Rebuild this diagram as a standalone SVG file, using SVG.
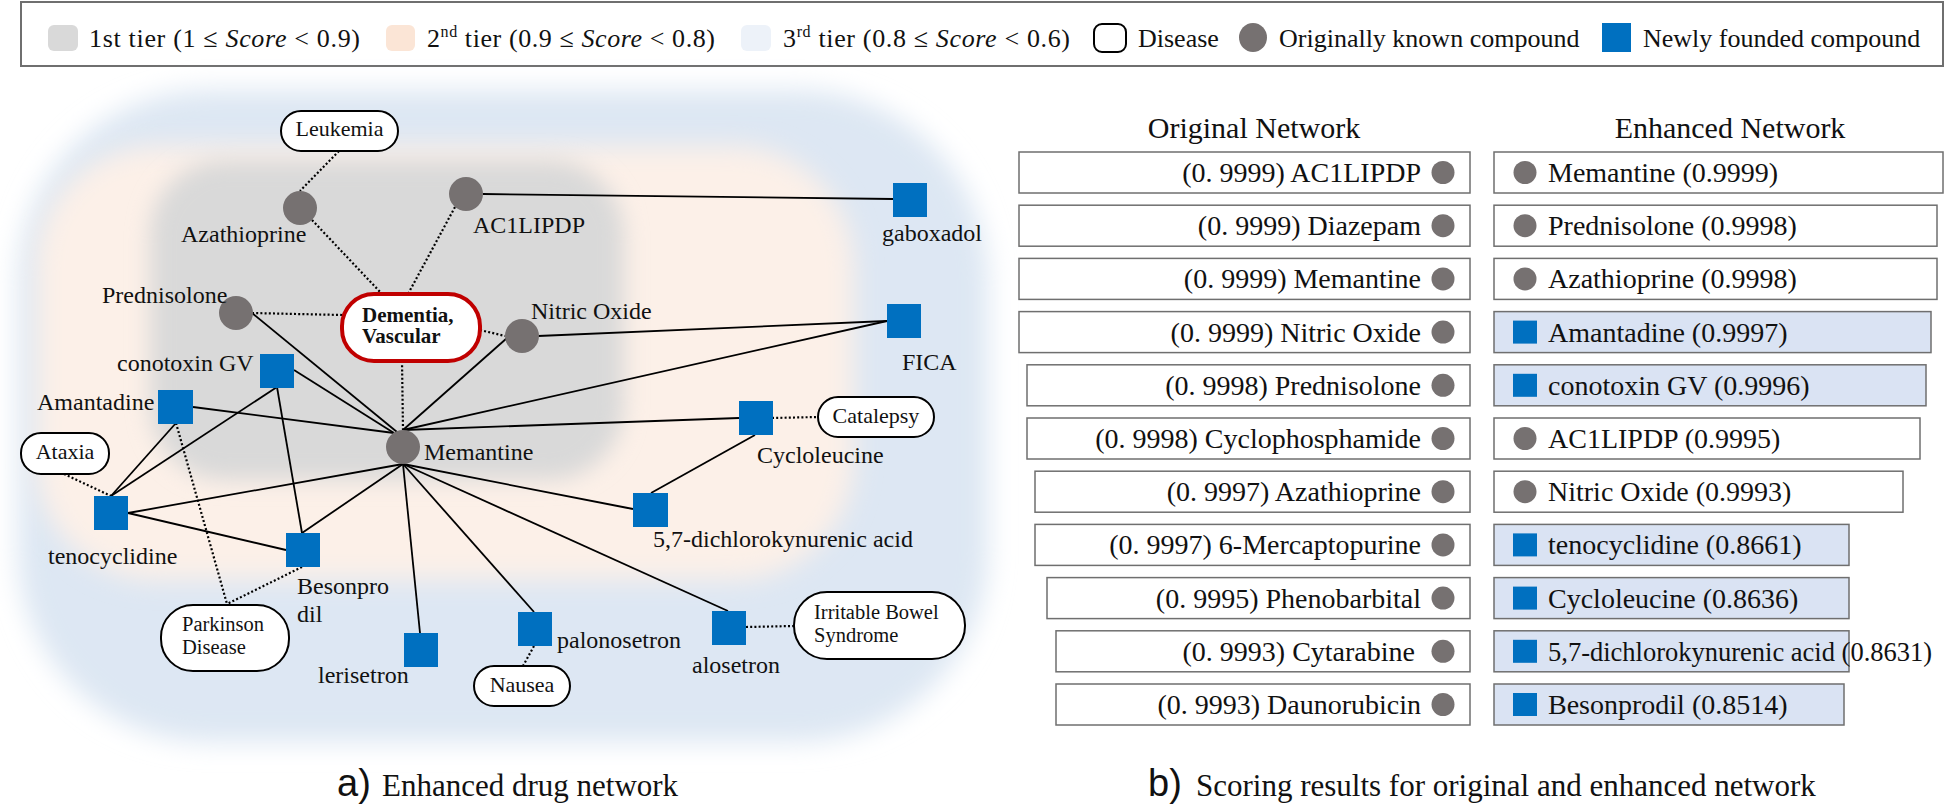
<svg xmlns="http://www.w3.org/2000/svg" width="1946" height="810" viewBox="0 0 1946 810">
<defs>
<style>
text{font-family:"Liberation Serif","Times New Roman",serif;fill:#111}
.lbl{font-size:24px}
.dl{font-size:22px}
.d2{font-size:20.5px}
.dm{font-size:21px;font-weight:bold}
.lg{font-size:26px}
.rp{font-size:28px}
.hd{font-size:30px}
.cap{font-size:31px}
.sans{font-family:"Liberation Sans",Arial,sans-serif;font-size:38px}
.sol{stroke:#000;stroke-width:1.8;fill:none}
.dot{stroke:#000;stroke-width:2.2;stroke-dasharray:2 2.2;fill:none}
.cmp{fill:#767171}
.new{fill:#0070C0}
.dis{fill:#fff;stroke:#000;stroke-width:2}
.bx{fill:#fff;stroke:#6f6f6f;stroke-width:1.5}
.bxb{fill:#dae3f3;stroke:#6f6f6f;stroke-width:1.5}
</style>
<filter id="blur" x="-20%" y="-20%" width="140%" height="140%"><feGaussianBlur stdDeviation="13"/></filter>
<filter id="blur2" x="-20%" y="-20%" width="140%" height="140%"><feGaussianBlur stdDeviation="11"/></filter>
</defs>
<rect width="1946" height="810" fill="#fff"/>

<g id="legend">
<rect x="21" y="2" width="1922" height="64" fill="#fff" stroke="#6f6f6f" stroke-width="2"/>
<rect x="48" y="25" width="30" height="26" rx="6" fill="#d9d9d9"/>
<text class="lg" x="89" y="47" textLength="271" lengthAdjust="spacing">1st tier (1 ≤ <tspan font-style="italic">Score</tspan> &lt; 0.9)</text>
<rect x="386" y="25" width="29" height="26" rx="6" fill="#fbe5d6"/>
<text class="lg" x="427" y="47" textLength="288" lengthAdjust="spacing">2<tspan dy="-10" font-size="16">nd</tspan><tspan dy="10"> tier (0.9 ≤ </tspan><tspan font-style="italic">Score</tspan> &lt; 0.8)</text>
<rect x="741" y="25" width="30" height="26" rx="6" fill="#edf2f9"/>
<text class="lg" x="783" y="47" textLength="287" lengthAdjust="spacing">3<tspan dy="-10" font-size="16">rd</tspan><tspan dy="10"> tier (0.8 ≤ </tspan><tspan font-style="italic">Score</tspan> &lt; 0.6)</text>
<rect x="1094" y="24" width="32" height="28" rx="8" fill="#fff" stroke="#000" stroke-width="2"/>
<text class="lg" x="1138" y="47">Disease</text>
<ellipse cx="1253" cy="37.5" rx="14" ry="14.5" fill="#767171"/>
<text class="lg" x="1279" y="47">Originally known compound</text>
<rect x="1602" y="23" width="29" height="29" fill="#0070C0"/>
<text class="lg" x="1643" y="47">Newly founded compound</text>
</g>

<g id="tiers">
<rect x="18" y="90" width="970" height="652" rx="190" fill="#dde7f3" filter="url(#blur)"/>
<rect x="36" y="146" width="818" height="434" rx="120" fill="#fcf0e8" filter="url(#blur)"/>
<rect x="150" y="160" width="474" height="320" rx="75" fill="#d9d9d9" filter="url(#blur2)"/>
</g>

<g id="connectors">
<line class="sol" x1="483" y1="194" x2="893" y2="199"/>
<line class="sol" x1="252" y1="313" x2="397" y2="432"/>
<line class="sol" x1="538" y1="336" x2="887" y2="321"/>
<line class="sol" x1="403" y1="430" x2="887" y2="321"/>
<line class="sol" x1="507" y1="338" x2="403" y2="430"/>
<line class="sol" x1="403" y1="430" x2="739" y2="418"/>
<line class="sol" x1="193" y1="407" x2="394" y2="433"/>
<line class="sol" x1="294" y1="370" x2="394" y2="433"/>
<line class="sol" x1="403" y1="464" x2="128" y2="513"/>
<line class="sol" x1="403" y1="464" x2="302" y2="533"/>
<line class="sol" x1="403" y1="464" x2="420" y2="633"/>
<line class="sol" x1="403" y1="464" x2="534" y2="612"/>
<line class="sol" x1="403" y1="464" x2="728" y2="611"/>
<line class="sol" x1="403" y1="464" x2="633" y2="509"/>
<line class="sol" x1="755" y1="435" x2="651" y2="493"/>
<line class="sol" x1="111" y1="496" x2="176" y2="423"/>
<line class="sol" x1="111" y1="496" x2="277" y2="387"/>
<line class="sol" x1="128" y1="513" x2="286" y2="550"/>
<line class="sol" x1="277" y1="387" x2="302" y2="533"/>
<line class="dot" x1="339" y1="151" x2="300" y2="191"/>
<line class="dot" x1="312" y1="220" x2="382" y2="294"/>
<line class="dot" x1="455" y1="207" x2="408" y2="294"/>
<line class="dot" x1="252" y1="313" x2="342" y2="315"/>
<line class="dot" x1="480" y1="330" x2="505" y2="336"/>
<line class="dot" x1="402" y1="361" x2="403" y2="430"/>
<line class="dot" x1="64" y1="474" x2="111" y2="496"/>
<line class="dot" x1="176" y1="423" x2="227" y2="604"/>
<line class="dot" x1="302" y1="567" x2="227" y2="604"/>
<line class="dot" x1="534" y1="646" x2="523" y2="666"/>
<line class="dot" x1="746" y1="627" x2="794" y2="626"/>
<line class="dot" x1="772" y1="418" x2="818" y2="417"/>
</g>

<g id="n-leukemia"><rect class="dis" x="281" y="111" width="117" height="40" rx="20"/><text class="dl" x="339.5" y="136" text-anchor="middle">Leukemia</text></g>
<g id="n-dementia"><rect x="342" y="294" width="138" height="67" rx="32" fill="#fff" stroke="#c00000" stroke-width="4"/><text class="dm" x="362" y="322">Dementia,</text><text class="dm" x="362" y="343">Vascular</text></g>
<g id="n-ataxia"><rect class="dis" x="21" y="433" width="88" height="41" rx="20"/><text class="dl" x="65" y="459" text-anchor="middle">Ataxia</text></g>
<g id="n-parkinson"><rect class="dis" x="161" y="605" width="128" height="66" rx="32"/><text class="d2" x="182" y="631">Parkinson</text><text class="d2" x="182" y="654">Disease</text></g>
<g id="n-nausea"><rect class="dis" x="474" y="666" width="96" height="40" rx="20"/><text class="dl" x="522" y="692" text-anchor="middle">Nausea</text></g>
<g id="n-ibs"><rect class="dis" x="794" y="592" width="171" height="67" rx="33"/><text class="d2" x="814" y="619">Irritable Bowel</text><text class="d2" x="814" y="642">Syndrome</text></g>
<g id="n-catalepsy"><rect class="dis" x="818" y="397" width="116" height="40" rx="20"/><text class="dl" x="876" y="423" text-anchor="middle">Catalepsy</text></g>

<g id="n-azathioprine"><circle class="cmp" cx="300" cy="208" r="17"/><text class="lbl" x="181" y="242">Azathioprine</text></g>
<g id="n-ac1lipdp"><circle class="cmp" cx="466" cy="194" r="17"/><text class="lbl" x="473" y="233">AC1LIPDP</text></g>
<g id="n-prednisolone"><circle class="cmp" cx="236" cy="313" r="17"/><text class="lbl" x="102" y="303">Prednisolone</text></g>
<g id="n-nitric"><circle class="cmp" cx="522" cy="336" r="17"/><text class="lbl" x="531" y="319">Nitric Oxide</text></g>
<g id="n-memantine"><circle class="cmp" cx="403" cy="447" r="17"/><text class="lbl" x="424" y="460">Memantine</text></g>

<g id="n-gaboxadol"><rect class="new" x="893" y="183" width="34" height="34"/><text class="lbl" x="882" y="241">gaboxadol</text></g>
<g id="n-fica"><rect class="new" x="887" y="304" width="34" height="34"/><text class="lbl" x="902" y="370">FICA</text></g>
<g id="n-conotoxin"><rect class="new" x="260" y="354" width="34" height="34"/><text class="lbl" x="117" y="371">conotoxin GV</text></g>
<g id="n-amantadine"><rect class="new" x="158" y="390" width="35" height="34"/><text class="lbl" x="37" y="410">Amantadine</text></g>
<g id="n-cycloleucine"><rect class="new" x="739" y="401" width="34" height="34"/><text class="lbl" x="757" y="463">Cycloleucine</text></g>
<g id="n-tenocyclidine"><rect class="new" x="94" y="496" width="34" height="34"/><text class="lbl" x="48" y="564">tenocyclidine</text></g>
<g id="n-besonprodil"><rect class="new" x="286" y="533" width="34" height="34"/><text class="lbl" x="297" y="594">Besonpro</text><text class="lbl" x="297" y="622">dil</text></g>
<g id="n-dichloro"><rect class="new" x="633" y="493" width="35" height="34"/><text class="lbl" x="653" y="547">5,7-dichlorokynurenic acid</text></g>
<g id="n-lerisetron"><rect class="new" x="404" y="633" width="34" height="34"/><text class="lbl" x="318" y="683">lerisetron</text></g>
<g id="n-palonosetron"><rect class="new" x="518" y="612" width="34" height="34"/><text class="lbl" x="557" y="648">palonosetron</text></g>
<g id="n-alosetron"><rect class="new" x="712" y="611" width="34" height="34"/><text class="lbl" x="692" y="673">alosetron</text></g>

<g id="caption-a"><text class="sans" x="337" y="796">a)</text><text class="cap" x="382" y="796">Enhanced drug network</text></g>

<g id="original-network">
<text class="hd" x="1254" y="138" text-anchor="middle">Original Network</text>
<rect class="bx" x="1019" y="152" width="451" height="41"/><text class="rp" x="1421" y="182" text-anchor="end">(0. 9999) AC1LIPDP</text><circle class="cmp" cx="1443" cy="172.5" r="11.5"/>
<rect class="bx" x="1019" y="205.2" width="451" height="41"/><text class="rp" x="1421" y="235.2" text-anchor="end">(0. 9999) Diazepam</text><circle class="cmp" cx="1443" cy="225.7" r="11.5"/>
<rect class="bx" x="1019" y="258.4" width="451" height="41"/><text class="rp" x="1421" y="288.4" text-anchor="end">(0. 9999) Memantine</text><circle class="cmp" cx="1443" cy="278.9" r="11.5"/>
<rect class="bx" x="1019" y="311.6" width="451" height="41"/><text class="rp" x="1421" y="341.6" text-anchor="end">(0. 9999) Nitric Oxide</text><circle class="cmp" cx="1443" cy="332.1" r="11.5"/>
<rect class="bx" x="1027" y="364.8" width="443" height="41"/><text class="rp" x="1421" y="394.8" text-anchor="end">(0. 9998) Prednisolone</text><circle class="cmp" cx="1443" cy="385.3" r="11.5"/>
<rect class="bx" x="1027" y="418" width="443" height="41"/><text class="rp" x="1421" y="448" text-anchor="end">(0. 9998) Cyclophosphamide</text><circle class="cmp" cx="1443" cy="438.5" r="11.5"/>
<rect class="bx" x="1035" y="471.2" width="435" height="41"/><text class="rp" x="1421" y="501.2" text-anchor="end">(0. 9997) Azathioprine</text><circle class="cmp" cx="1443" cy="491.7" r="11.5"/>
<rect class="bx" x="1035" y="524.4" width="435" height="41"/><text class="rp" x="1421" y="554.4" text-anchor="end">(0. 9997) 6-Mercaptopurine</text><circle class="cmp" cx="1443" cy="544.9" r="11.5"/>
<rect class="bx" x="1047" y="577.6" width="423" height="41"/><text class="rp" x="1421" y="607.6" text-anchor="end">(0. 9995) Phenobarbital</text><circle class="cmp" cx="1443" cy="598.1" r="11.5"/>
<rect class="bx" x="1056" y="630.8" width="414" height="41"/><text class="rp" x="1415" y="660.8" text-anchor="end">(0. 9993) Cytarabine</text><circle class="cmp" cx="1443" cy="651.3" r="11.5"/>
<rect class="bx" x="1056" y="684" width="414" height="41"/><text class="rp" x="1421" y="714" text-anchor="end">(0. 9993) Daunorubicin</text><circle class="cmp" cx="1443" cy="704.5" r="11.5"/>
</g>

<g id="enhanced-network">
<text class="hd" x="1730" y="138" text-anchor="middle">Enhanced Network</text>
<rect class="bx" x="1494" y="152" width="449" height="41"/><circle class="cmp" cx="1525" cy="172.5" r="11.5"/><text class="rp" x="1548" y="182">Memantine (0.9999)</text>
<rect class="bx" x="1494" y="205.2" width="443" height="41"/><circle class="cmp" cx="1525" cy="225.7" r="11.5"/><text class="rp" x="1548" y="235.2">Prednisolone (0.9998)</text>
<rect class="bx" x="1494" y="258.4" width="443" height="41"/><circle class="cmp" cx="1525" cy="278.9" r="11.5"/><text class="rp" x="1548" y="288.4">Azathioprine (0.9998)</text>
<rect class="bxb" x="1494" y="311.6" width="437" height="41"/><rect class="new" x="1513" y="320.6" width="24" height="23"/><text class="rp" x="1548" y="341.6">Amantadine (0.9997)</text>
<rect class="bxb" x="1494" y="364.8" width="432" height="41"/><rect class="new" x="1513" y="373.8" width="24" height="23"/><text class="rp" x="1548" y="394.8">conotoxin GV (0.9996)</text>
<rect class="bx" x="1494" y="418" width="426" height="41"/><circle class="cmp" cx="1525" cy="438.5" r="11.5"/><text class="rp" x="1548" y="448">AC1LIPDP (0.9995)</text>
<rect class="bx" x="1494" y="471.2" width="409" height="41"/><circle class="cmp" cx="1525" cy="491.7" r="11.5"/><text class="rp" x="1548" y="501.2">Nitric Oxide (0.9993)</text>
<rect class="bxb" x="1494" y="524.4" width="355" height="41"/><rect class="new" x="1513" y="533.4" width="24" height="23"/><text class="rp" x="1548" y="554.4">tenocyclidine (0.8661)</text>
<rect class="bxb" x="1494" y="577.6" width="355" height="41"/><rect class="new" x="1513" y="586.6" width="24" height="23"/><text class="rp" x="1548" y="607.6">Cycloleucine (0.8636)</text>
<rect class="bxb" x="1494" y="630.8" width="355" height="41"/><rect class="new" x="1513" y="639.8" width="24" height="23"/><text x="1548" y="660.8" font-size="26.5">5,7-dichlorokynurenic acid (0.8631)</text>
<rect class="bxb" x="1494" y="684" width="350" height="41"/><rect class="new" x="1513" y="693" width="24" height="23"/><text class="rp" x="1548" y="714">Besonprodil (0.8514)</text>
</g>

<g id="caption-b"><text class="sans" x="1148" y="796">b)</text><text class="cap" x="1196" y="796">Scoring results for original and enhanced network</text></g>
</svg>
